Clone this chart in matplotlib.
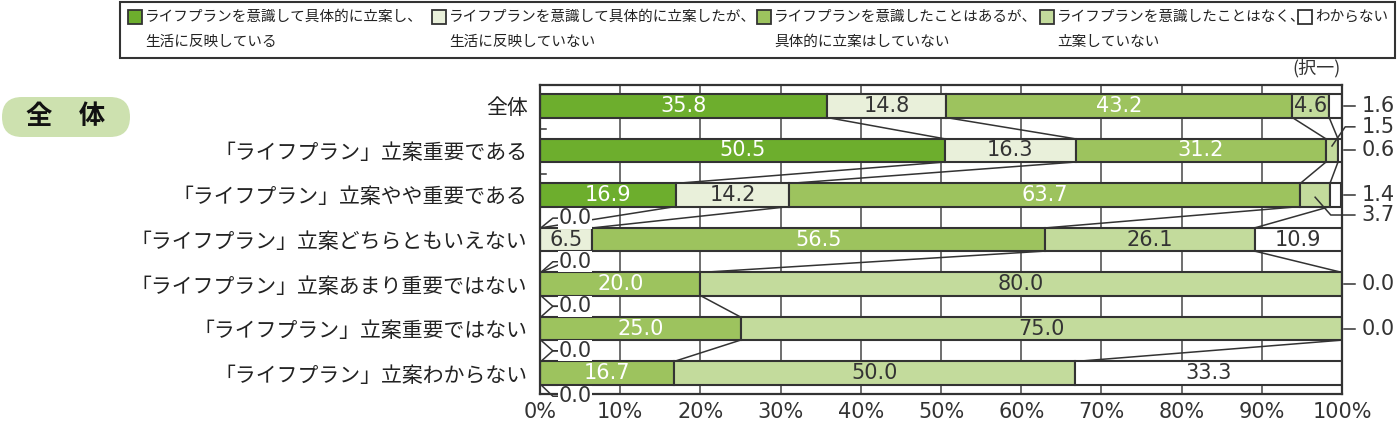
import matplotlib
matplotlib.use("Agg")
import matplotlib.pyplot as plt
from matplotlib.patches import Rectangle, FancyBboxPatch
import numpy as np

plt.rcParams['font.family'] = ['Noto Sans CJK JP', 'DejaVu Sans']

# ---------------- data ----------------
categories = ['全体',
              '「ライフプラン」立案重要である',
              '「ライフプラン」立案やや重要である',
              '「ライフプラン」立案どちらともいえない',
              '「ライフプラン」立案あまり重要ではない',
              '「ライフプラン」立案重要ではない',
              '「ライフプラン」立案わからない']
s1 = [35.8, 50.5, 16.9, 0.0, 0.0, 0.0, 0.0]
s2 = [14.8, 16.3, 14.2, 6.5, 0.0, 0.0, 0.0]
s3 = [43.2, 31.2, 63.7, 56.5, 20.0, 25.0, 16.7]
s4 = [4.6, 1.5, 3.7, 26.1, 80.0, 75.0, 50.0]
s5 = [1.6, 0.6, 1.4, 10.9, 0.0, 0.0, 33.3]
series = [s1, s2, s3, s4, s5]
legend_labels = ['ライフプランを意識して具体的に立案し、\n生活に反映している',
                 'ライフプランを意識して具体的に立案したが、\n生活に反映していない',
                 'ライフプランを意識したことはあるが、\n具体的に立案はしていない',
                 'ライフプランを意識したことはなく、\n立案していない',
                 'わからない']
xtick_labels = ['0%', '10%', '20%', '30%', '40%', '50%', '60%', '70%', '80%', '90%', '100%']
# outside value labels on the right: (row, series index, label row offset)
right_labels = [(0, 4, 0.0), (1, 3, -0.53), (1, 4, 0.0), (2, 4, 0.0),
                (2, 3, 0.45), (4, 4, 0.0), (5, 4, 0.0)]
# zero labels on the left: (gap row position, leader ends at rows)
zero_labels = [(2.52, [3]), (3.5, [4]), (4.5, [4, 5]), (5.5, [5, 6]), (6.52, [6])]

colors = ['#6DAE2D', '#E9F0DA', '#9DC35E', '#C3DB9C', '#FFFFFF']
text_colors = ['white', '#333333', 'white', '#333333', '#333333']
edge = '#333333'

W, H = 1400, 423
fig = plt.figure(figsize=(W / 100, H / 100), dpi=100)

# overlay for decorations (pixel coordinates)
ov = fig.add_axes([0, 0, 1, 1])
ov.set_xlim(0, W)
ov.set_ylim(H, 0)
ov.axis('off')

# legend box
ov.add_patch(Rectangle((120, 2), 1275, 56, fill=False, edgecolor=edge, lw=1.5))
leg_x = [128, 432, 757, 1040, 1298]
for i, lab in enumerate(legend_labels):
    ov.add_patch(Rectangle((leg_x[i], 10), 14, 14, facecolor=colors[i], edgecolor=edge, lw=1.3))
    for j, line in enumerate(lab.split('\n')):
        ov.text(leg_x[i] + 17, 17 + 25 * j, line, fontsize=10.5, va='center', ha='left', color='#222222')

# badge
ov.add_patch(FancyBboxPatch((2, 97), 128, 40, boxstyle='round,pad=0,rounding_size=20',
                            facecolor='#CDE1AF', edgecolor='none'))
ov.text(66, 117, '全　体', fontsize=19, ha='center', va='center', color='#111111', fontweight='bold')
ov.text(1317, 68, '(択一)', fontsize=13, ha='center', va='center', color='#333333')

# main axes
left, right, top, bottom = 540, 1342, 85, 394
ax = fig.add_axes([left / W, 1 - bottom / H, (right - left) / W, (bottom - top) / H])
n = len(categories)
y = np.arange(n)
h = 0.52
ax.set_xlim(0, 100)
ax.set_ylim(6.47, -0.47)

cum = np.zeros((n, len(series) + 1))
for k, s in enumerate(series):
    cum[:, k + 1] = cum[:, k] + np.array(s)

for k, s in enumerate(series):
    for i in range(n):
        v = s[i]
        if v <= 0:
            continue
        ax.barh(y[i], v, left=cum[i, k], height=h, color=colors[k], edgecolor=edge, lw=1.5, zorder=3)
        if v >= 4.0:
            ax.text(cum[i, k] + v / 2, y[i], f'{v:.1f}', ha='center', va='center',
                    fontsize=15, color=text_colors[k], family='DejaVu Sans', zorder=5)

# connector lines
for i in range(n - 1):
    for k in range(1, len(series)):
        ax.plot([cum[i, k], cum[i + 1, k]], [y[i] + h / 2, y[i + 1] - h / 2],
                color=edge, lw=1.1, zorder=2)

# small marks at the left edge
for g in [0.52, 1.52]:
    ax.plot([0, 0.7], [g, g], color=edge, lw=1.1, zorder=2)

# right outside labels
for (i, k, off) in right_labels:
    v = series[k][i]
    ly = y[i] + off
    if off == 0.0:
        ax.plot([100.3, 101.6], [ly, ly], color=edge, lw=1.1, clip_on=False)
    else:
        mx = cum[i, k] + v / 2
        sy = y[i] - 0.1 if off < 0 else y[i] + 0.05
        ex = 100.4 if off < 0 else 98.6
        ax.plot([mx, ex, 101.6], [sy, ly, ly], color=edge, lw=1.1, clip_on=False, zorder=6)
    ax.text(102.4, ly, f'{v:.1f}', ha='left', va='center', fontsize=15,
            color='#333333', family='DejaVu Sans')

# left zero labels
for (gy, targets) in zero_labels:
    for t in targets:
        ty = y[t] - h / 2 if t > gy else y[t] + h / 2
        ax.plot([0.1, 1.6, 2.2], [ty, gy, gy], color=edge, lw=1.1, clip_on=False, zorder=6)
    ax.text(4.4, gy, '0.0', ha='center', va='center', fontsize=15, color='#333333',
            family='DejaVu Sans', zorder=7, clip_on=False,
            bbox=dict(facecolor='white', edgecolor='none', pad=0.5))

ax.set_xticks(np.arange(0, 101, 10))
ax.set_xticklabels(xtick_labels, family='DejaVu Sans', fontsize=15, color='#333333')
ax.set_yticks(y)
ax.set_yticklabels(categories, fontsize=15, color='#222222')
ax.tick_params(axis='both', length=0)
ax.tick_params(axis='y', pad=9)
ax.tick_params(axis='x', pad=6)
ax.grid(axis='x', color='#555555', lw=1.2, zorder=0)
ax.grid(axis='y', visible=False)
ax.set_axisbelow(True)
for sp in ax.spines.values():
    sp.set_color(edge)
    sp.set_linewidth(1.6)
    sp.set_zorder(4)

fig.savefig('out.png', dpi=100)
